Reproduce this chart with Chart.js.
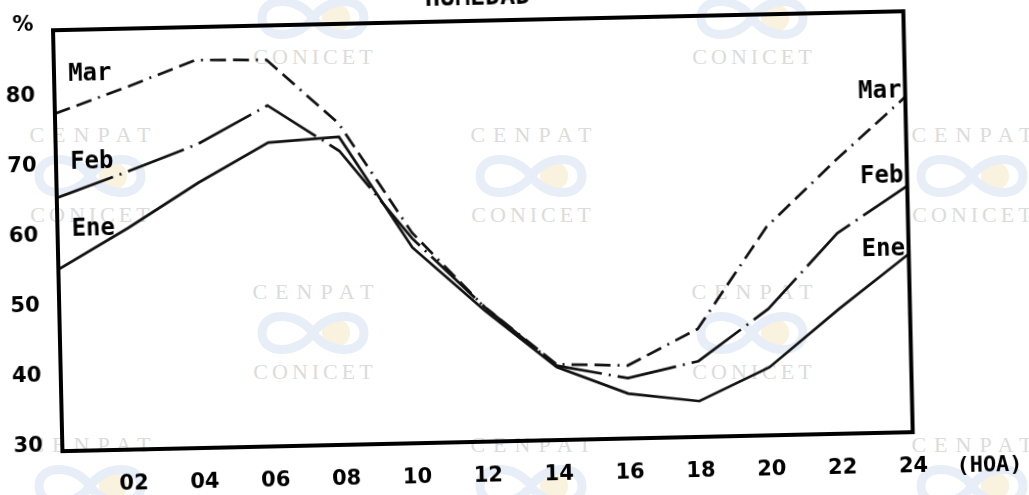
<!DOCTYPE html>
<html lang="es">
<head>
<meta charset="utf-8">
<title>Humedad</title>
<script src="https://cdn.jsdelivr.net/npm/chart.js@4.4.1/dist/chart.umd.min.js"></script>
<style>
  html, body { margin: 0; padding: 0; background: #fff; overflow: hidden; }
  #pagina { position: relative; width: 1029px; height: 495px; overflow: hidden; }
  #marcas { position: absolute; left: 0; top: 0; width: 1029px; height: 495px; font-family: "Liberation Serif", serif; font-size: 22px; color: #dcdcdc; }
  #marcas span { position: absolute; white-space: nowrap; line-height: 1; transform: translateX(-50%); }
  #marcas svg { position: absolute; }
  .cenpat { letter-spacing: 8px; }
  .conicet { letter-spacing: 4px; }
  #grafico { position: absolute; left: 0; top: -20px; width: 1029px; height: 515px; transform: rotate(-1.28deg); transform-origin: 514.5px 267.5px; }
</style>
</head>
<body>
<div id="pagina">
  <div id="marcas"></div>
  <div id="grafico"><canvas id="humedad" width="1029" height="515"></canvas></div>
</div>
<script>
// datos (humedad relativa media por hora)
const horas = [0, 2, 4, 6, 8, 10, 12, 14, 16, 18, 20, 22, 24];
const ene = [55.9, 61.6, 67.8, 73.3, 73.9, 57.9, 48.7, 40.4, 36.4, 35.1, 39.7, 47.8, 55.4];
const feb = [66.1, 69.6, 73.3, 78.6, 71.9, 59.2, 49.2, 40.6, 38.6, 40.8, 48.0, 58.6, 65.1];
const mar = [78.1, 81.6, 85.3, 85.1, 75.8, 60.0, 49.2, 40.8, 40.4, 45.4, 59.7, 69.0, 77.8];
const meses = ['Ene', 'Feb', 'Mar'];

// marca de agua del escaneo (CENPAT / CONICET)
const marcas = [[313, -30], [752, -30], [313, 285], [752, 285], [90, 128], [531, 128], [972, 128], [90, 438], [531, 438], [972, 438]];
const capa = document.getElementById('marcas');
marcas.forEach(([x, y]) => {
    const a = document.createElement('span');
    a.className = 'cenpat';
    a.textContent = 'CENPAT';
    a.style.left = (x + 4) + 'px';
    a.style.top = (y - 4) + 'px';
    capa.appendChild(a);
    const logo = document.createElementNS('http://www.w3.org/2000/svg', 'svg');
    logo.setAttribute('width', '130');
    logo.setAttribute('height', '56');
    logo.style.left = (x - 65) + 'px';
    logo.style.top = (y + 20) + 'px';
    logo.innerHTML = '<circle cx="88" cy="28" r="14" fill="#f8f2de"/>' +
        '<path d="M65,28 C50,6 14,6 14,28 C14,50 50,50 65,28 C80,6 116,6 116,28 C116,50 80,50 65,28 Z" fill="none" stroke="#e8eef7" stroke-width="9"/>';
    capa.appendChild(logo);
    const b = document.createElement('span');
    b.className = 'conicet';
    b.textContent = 'CONICET';
    b.style.left = (x + 2) + 'px';
    b.style.top = (y + 76) + 'px';
    capa.appendChild(b);
});

const puntos = serie => horas.map((h, i) => ({ x: h, y: serie[i] }));

// marco grueso alrededor del área del gráfico
const marco = {
    id: 'marco',
    afterDatasetsDraw(chart) {
        const { ctx, chartArea: a } = chart;
        ctx.save();
        ctx.strokeStyle = '#000';
        ctx.lineWidth = 4;
        ctx.strokeRect(a.left, a.top, a.right - a.left, a.bottom - a.top);
        ctx.restore();
    }
};

// nombres de los meses a ambos lados y unidad del eje x
const rotulos = {
    id: 'rotulos',
    afterDraw(chart) {
        const { ctx, chartArea: a } = chart;
        const xs = chart.scales.x, ys = chart.scales.y;
        ctx.save();
        ctx.fillStyle = '#000';
        ctx.textBaseline = 'middle';
        ctx.font = 'bold 24px "DejaVu Sans Mono"';
        const izq = [61.6, 71.1, 83.6];
        const der = [56.1, 66.5, 78.7];
        meses.forEach((m, i) => {
            ctx.textAlign = 'left';
            ctx.fillText(m, xs.getPixelForValue(0.4), ys.getPixelForValue(izq[i]));
            ctx.textAlign = 'right';
            ctx.fillText(m, xs.getPixelForValue(23.9), ys.getPixelForValue(der[i]));
        });
        ctx.font = 'bold 22px "DejaVu Sans Mono"';
        ctx.textAlign = 'center';
        ctx.fillText('(HOA)', a.right + 76, a.bottom + 35);
        ctx.restore();
    }
};

const fuenteEje = { family: 'DejaVu Sans', weight: 'bold', size: 21 };

new Chart(document.getElementById('humedad'), {
    type: 'line',
    data: {
        datasets: [
            { label: 'Ene', data: puntos(ene), borderColor: '#111', borderWidth: 2.7 },
            { label: 'Feb', data: puntos(feb), borderColor: '#111', borderWidth: 2.7, borderDash: [60, 7, 2, 7] },
            { label: 'Mar', data: puntos(mar), borderColor: '#111', borderWidth: 2.7, borderDash: [16, 7, 16, 7, 2, 7] }
        ]
    },
    options: {
        responsive: false,
        animation: false,
        devicePixelRatio: 1,
        layout: { padding: { left: 0, right: 120.5, top: 0, bottom: 0 } },
        elements: { point: { radius: 0 }, line: { tension: 0, fill: false } },
        plugins: {
            legend: { display: false },
            tooltip: { enabled: false },
            title: {
                display: true,
                fullSize: false,
                text: 'HUMEDAD',
                color: '#000',
                font: { family: 'DejaVu Sans Mono', weight: 'bold', size: 25, lineHeight: 1.2 },
                padding: { top: 2.5, bottom: 7.5 }
            }
        },
        scales: {
            x: {
                type: 'linear', min: 0, max: 24,
                grid: { display: false },
                border: { display: false },
                ticks: {
                    stepSize: 2, autoSkip: false, maxRotation: 0, padding: 14,
                    color: '#000', font: fuenteEje,
                    callback: v => v === 0 ? '' : String(v).padStart(2, '0')
                },
                afterFit: s => { s.height = 54; }
            },
            y: {
                min: 30, max: 90,
                grid: { display: false },
                border: { display: false },
                ticks: {
                    stepSize: 10, padding: 11.5, labelOffset: -5,
                    color: '#000', font: fuenteEje,
                    callback: v => v === 90 ? '%' : v
                },
                afterFit: s => { s.width = 58; }
            }
        }
    },
    plugins: [marco, rotulos]
});
</script>
</body>
</html>
